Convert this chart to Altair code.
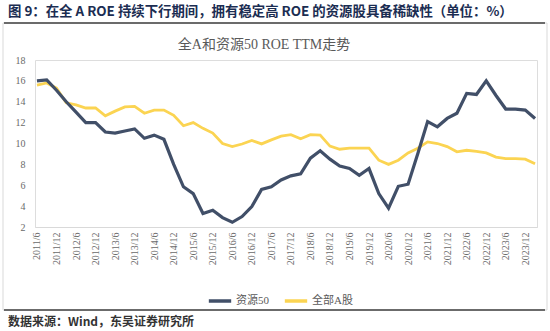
import altair as alt
import pandas as pd

quarters = []
for yr in range(2011, 2025):
    for m in (3, 6, 9, 12):
        if (yr == 2011 and m < 6) or (yr == 2024 and m > 3):
            continue
        quarters.append(f"{yr}/{m}")

res50 = [16.0, 16.1, 15.1, 14.0, 13.0, 12.0, 12.0, 11.1, 11.0, 11.2,
         11.4, 10.5, 10.8, 10.4, 8.0, 5.85, 5.2, 3.3, 3.6, 2.9,
         2.45, 3.0, 3.95, 5.6, 5.85, 6.5, 6.9, 7.1, 8.6, 9.3,
         8.5, 7.85, 7.6, 6.95, 7.6, 5.2, 3.8, 5.9, 6.1, 9.05,
         12.1, 11.6, 12.4, 12.9, 14.8, 14.7, 16.0, 14.6, 13.3, 13.3,
         13.2, 12.4]
alla = [15.6, 15.8, 15.3, 13.9, 13.7, 13.4, 13.4, 12.65, 13.1, 13.5,
        13.55, 12.9, 13.2, 13.2, 12.7, 11.7, 12.0, 11.45, 11.0, 10.0,
        9.7, 9.95, 10.3, 9.96, 10.35, 10.7, 10.85, 10.45, 10.85, 10.8,
        9.75, 9.45, 9.55, 9.55, 9.55, 8.4, 8.0, 8.4, 9.1, 9.55,
        10.15, 10.0, 9.7, 9.2, 9.35, 9.25, 9.1, 8.7, 8.55, 8.55,
        8.5, 8.05]
series_names = ["资源50", "全部A股"]
tick_labels = [q for q in quarters if q.endswith("/6") or q.endswith("/12")]

header = "图 9：在全 A ROE 持续下行期间，拥有稳定高 ROE 的资源股具备稀缺性（单位：%）"
chart_title = "全A和资源50 ROE TTM走势"
footer = "数据来源：Wind，东吴证券研究所"

DARK = "#414f68"
YELLOW = "#fbd452"
SERIF = "'Liberation Serif', 'Noto Sans CJK SC', serif"
CJK = "'Noto Sans CJK SC', sans-serif"

df = pd.DataFrame({
    "q": quarters * 2,
    "v": res50 + alla,
    "s": [series_names[0]] * len(quarters) + [series_names[1]] * len(quarters),
})

W, H = 502, 167

color = alt.Color("s:N", scale=alt.Scale(domain=series_names, range=[DARK, YELLOW]),
                  legend=alt.Legend(title=None, orient="none", direction="horizontal",
                                    legendX=172, legendY=228, symbolType="stroke",
                                    symbolSize=500, symbolStrokeWidth=3.5,
                                    labelFont=SERIF, labelFontSize=11, labelColor="#595959",
                                    columnPadding=8, labelOffset=3))

x = alt.X("q:N", sort=quarters, title=None,
          scale=alt.Scale(type="point", padding=0.2),
          axis=alt.Axis(values=tick_labels, labelAngle=-90, labelFont=SERIF, labelFontSize=10,
                        labelColor="#6a6a6a", ticks=False, domainColor="#d9d9d9",
                        labelPadding=5, grid=False))
y = alt.Y("v:Q", title=None, scale=alt.Scale(domain=[2, 18], nice=False),
          axis=alt.Axis(values=list(range(2, 19, 2)), labelFont=SERIF, labelFontSize=10,
                        labelColor="#6a6a6a", ticks=False, domain=False, grid=False,
                        labelPadding=10))

base = alt.Chart(df)
yellow = base.transform_filter(alt.datum.s == series_names[1]).mark_line(strokeWidth=2.8).encode(x=x, y=y, color=color)
dark = base.transform_filter(alt.datum.s == series_names[0]).mark_line(strokeWidth=3.2).encode(x=x, y=y, color=color)

ann = alt.Chart(pd.DataFrame({"a": [0]}))
border = ann.mark_rect(fill=None, stroke="#d9d9d9", strokeWidth=1).encode(
    x=alt.value(-32), x2=alt.value(512), y=alt.value(-37), y2=alt.value(250))
top_rule = ann.mark_rule(color="#6b6b6b", strokeWidth=2).encode(
    x=alt.value(-31), x2=alt.value(510), y=alt.value(-37))
bot_rule = ann.mark_rule(color="#6b6b6b", strokeWidth=2).encode(
    x=alt.value(-31), x2=alt.value(510), y=alt.value(250))
head_t = ann.mark_text(text=header, font=CJK, fontSize=13.4, fontWeight="bold",
                       color="#1b2d52", align="left", baseline="middle").encode(
    x=alt.value(-27), y=alt.value(-48))
title_t = ann.mark_text(text=chart_title, font=SERIF, fontSize=14, color="#595959",
                        align="center", baseline="middle").encode(
    x=alt.value(229), y=alt.value(-15))
foot_t = ann.mark_text(text=footer, font=CJK, fontSize=12, fontWeight="bold",
                       color="#333333", align="left", baseline="middle").encode(
    x=alt.value(-27), y=alt.value(262))

chart = alt.layer(border, top_rule, bot_rule, yellow, dark, head_t, title_t, foot_t).properties(
    width=W, height=H, autosize=alt.AutoSizeParams(type="none"),
    padding={"left": 35, "top": 60, "right": 13, "bottom": 104},
).configure_view(stroke=None).configure(background="white")

chart.save("out.html", embed_options={"renderer": "svg", "actions": False})
